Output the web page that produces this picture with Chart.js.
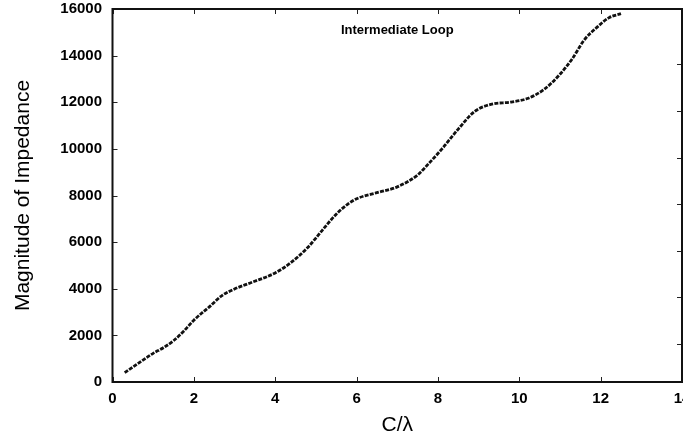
<!DOCTYPE html>
<html>
<head>
<meta charset="utf-8">
<script src="https://cdn.jsdelivr.net/npm/chart.js@4/dist/chart.umd.min.js"></script>
<style>
  html, body { margin: 0; padding: 0; background: #fff; overflow: hidden; }
  #wrap { width: 683px; height: 440px; position: relative; }
</style>
</head>
<body>
<div id="wrap"><canvas id="c"></canvas></div>
<script>
// ---- data ----
const cOverLambda = [0.3, 0.6, 1.0, 1.25, 1.5, 1.75, 2.0, 2.4, 2.7, 3.0, 3.4, 4.0, 4.4, 4.8, 5.2, 5.5, 5.8, 6.0,
                     6.5, 7.0, 7.5, 7.8, 8.1, 8.5, 8.9, 9.3, 9.8, 10.2, 10.6, 11.0, 11.3, 11.6, 11.9, 12.2, 12.5];
const impedance  = [400, 760, 1230, 1470, 1770, 2180, 2650, 3255, 3720, 3990, 4260, 4680, 5140, 5770, 6600, 7200, 7650, 7860,
                    8120, 8370, 8880, 9420, 10000, 10850, 11600, 11910, 12010, 12160, 12540, 13200, 13860, 14680, 15200, 15620, 15800];
const xTickValues = [0, 2, 4, 6, 8, 10, 12, 14];
const yTickValues = [0, 2000, 4000, 6000, 8000, 10000, 12000, 14000, 16000];
const annotationText = "Intermediate Loop";
const annotationAt = { x: 7, y: 15100 };
const xTitle = "C/\u03BB";
const yTitle = "Magnitude of Impedance";

const FONT = "'Liberation Sans', Arial, Helvetica, sans-serif";

const framePlugin = {
  id: 'frame',
  afterDraw(chart) {
    const { ctx, chartArea: a, scales } = chart;
    ctx.save();
    ctx.strokeStyle = '#222';
    ctx.lineWidth = 1;
    const L = 5;
    ctx.beginPath();
    scales.x.ticks.forEach((t, i) => {
      const px = Math.round(scales.x.getPixelForTick(i)) + 0.5;
      ctx.moveTo(px, a.bottom); ctx.lineTo(px, a.bottom - L);
      ctx.moveTo(px, a.top); ctx.lineTo(px, a.top + L);
    });
    scales.y.ticks.forEach((t, i) => {
      const py = Math.round(scales.y.getPixelForTick(i)) + 0.5;
      ctx.moveTo(a.left, py); ctx.lineTo(a.left + L, py);
    });
    scales.y2.ticks.forEach((t, i) => {
      if (t.value < 2000 || t.value > 14000) return;
      const py = Math.round(scales.y2.getPixelForTick(i)) + 0.5;
      ctx.moveTo(a.right, py); ctx.lineTo(a.right - L, py);
    });
    ctx.stroke();
    ctx.strokeStyle = '#111';
    ctx.lineWidth = 2;
    ctx.strokeRect(a.left, a.top, a.right - a.left, a.bottom - a.top);
    ctx.fillStyle = '#000';
    ctx.font = "bold 13px " + FONT;
    ctx.textAlign = 'center';
    ctx.textBaseline = 'middle';
    ctx.fillText(annotationText, scales.x.getPixelForValue(annotationAt.x), scales.y.getPixelForValue(annotationAt.y));
    ctx.restore();
  }
};

new Chart(document.getElementById('c'), {
  type: 'line',
  data: {
    datasets: [{
      data: cOverLambda.map((x, i) => ({ x: x, y: impedance[i] })),
      borderColor: '#111',
      borderWidth: 2.8,
      borderDash: [4, 1.3],
      pointRadius: 0,
      fill: false,
      cubicInterpolationMode: 'monotone',
      yAxisID: 'y'
    }]
  },
  options: {
    responsive: true,
    maintainAspectRatio: false,
    animation: false,
    devicePixelRatio: 1,
    layout: { padding: { left: 0, right: 1, top: 9, bottom: 0 } },
    plugins: { legend: { display: false }, tooltip: { enabled: false } },
    scales: {
      x: {
        type: 'linear', min: 0, max: 14,
        afterBuildTicks: s => { s.ticks = xTickValues.map(v => ({ value: v })); },
        afterFit: s => { s.paddingRight = 0; s.height = 58; },
        grid: { display: false, drawTicks: false, tickLength: 0 },
        border: { display: false },
        ticks: { color: '#000', padding: 7.5, maxRotation: 0, font: { family: FONT, size: 15, weight: 'bold' } },
        title: { display: true, text: xTitle, color: '#000', padding: { top: 5, bottom: 2 }, font: { family: FONT, size: 21 } }
      },
      y: {
        type: 'linear', min: 0, max: 16000,
        afterBuildTicks: s => { s.ticks = yTickValues.map(v => ({ value: v })); },
        afterFit: s => { s.paddingTop = 0; s.paddingBottom = 0; s.width = 112.5; },
        grid: { display: false, drawTicks: false, tickLength: 0 },
        border: { display: false },
        ticks: { color: '#000', padding: 10.5, font: { family: FONT, size: 15, weight: 'bold' }, callback: v => String(v) },
        title: { display: true, text: yTitle, color: '#000', padding: { top: 11, bottom: 24 }, font: { family: FONT, size: 21 } }
      },
      y2: {
        type: 'linear', position: 'right', display: false, min: 372, max: 16372,
        afterBuildTicks: s => { s.ticks = yTickValues.map(v => ({ value: v })); }
      }
    }
  },
  plugins: [framePlugin]
});
</script>
</body>
</html>
